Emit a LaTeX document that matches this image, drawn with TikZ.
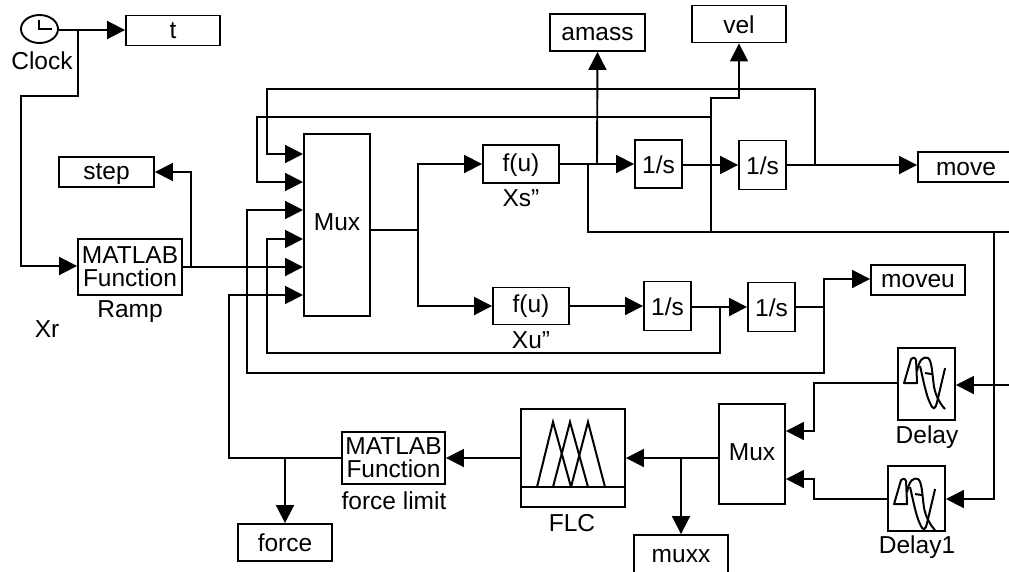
\documentclass[tikz,border=0pt]{standalone}
\usepackage{fontspec}
\setmainfont{Liberation Sans}
\usetikzlibrary{arrows.meta,shapes.geometric}
\newcommand\shifttext[2]{\raisebox{#1}[\height][\depth]{#2}}
\tikzset{
  blk/.style={draw=black,line width=1.9pt,fill=white,inner sep=0pt,font=\fontsize{24.5}{25}\selectfont,align=center},
  lbl/.style={inner sep=0pt,font=\fontsize{24.5}{25}\selectfont},
  wire/.style={line width=1.9pt,line join=miter},
  arr/.style={wire,-{Triangle[length=18pt,width=18pt]},shorten >=0pt},
  delayicon/.pic={
    \draw[line width=2pt,line join=round] (7,36) -- (14,12) .. controls (15,10) and (18,10) .. (19,13) -- (20,36) -- cycle;
    \draw[line width=2pt] (20,24) .. controls (22,12) and (27,9) .. (31,11) .. controls (35,14) and (35,26) .. (37,40) .. controls (39,50) and (44,58) .. (48,62);
    \draw[line width=2pt] (23,19) .. controls (26,32) and (29,48) .. (33,56) .. controls (36,63) and (38,63) .. (40,55) -- (48,21);
    \draw[line width=2pt] (28,26) -- (35,27);
  }
}
\begin{document}
\begin{tikzpicture}[x=1pt,y=-1pt]
\clip (0,0) rectangle (1009,571);
\fill[white] (0,0) rectangle (1009,571);
% blocks
\node[blk,ellipse,minimum width=37pt,minimum height=28pt] (clock) at (39.5,29) {};
\node[blk,minimum width=94pt,minimum height=30pt] (t) at (173,30.5) {t};
\node[blk,minimum width=95pt,minimum height=30pt] (step) at (106.5,172) {\shifttext{-2pt}{step}};
\node[blk,minimum width=104pt,minimum height=56pt] (ramp) at (130,267) {MATLAB\\[-2pt]Function};
\node[blk,minimum width=66pt,minimum height=182pt] (mux) at (337,225) {\shifttext{3pt}{Mux}};
\node[blk,minimum width=76pt,minimum height=38pt] (fs) at (521,164) {\shifttext{-1pt}{f(u)}};
\node[blk,minimum width=76pt,minimum height=37pt] (fu) at (531,306) {f(u)};
\node[blk,minimum width=47pt,minimum height=48pt] (i1) at (658.5,164) {\shifttext{-1pt}{1/s}};
\node[blk,minimum width=47pt,minimum height=49pt] (i2) at (762.5,165) {\shifttext{-1pt}{1/s}};
\node[blk,minimum width=47pt,minimum height=49pt] (i3) at (667.5,306) {\shifttext{-1pt}{1/s}};
\node[blk,minimum width=47pt,minimum height=49pt] (i4) at (771.5,307) {\shifttext{-1pt}{1/s}};
\node[blk,minimum width=95pt,minimum height=37pt] (amass) at (597.5,32.5) {\shifttext{-2pt}{amass}};
\node[blk,minimum width=94pt,minimum height=37pt] (vel) at (739,24) {\shifttext{-1pt}{vel}};
\node[blk,minimum width=96pt,minimum height=30pt] (move) at (966,167) {\shifttext{-2pt}{move}};
\node[blk,minimum width=94pt,minimum height=30pt] (moveu) at (918,280) {\shifttext{-1pt}{moveu}};
\node[blk,minimum width=57pt,minimum height=72pt] (delay) at (926.5,384) {};
\node[blk,minimum width=57pt,minimum height=65pt] (delayb) at (916.5,498.5) {};
\node[blk,minimum width=66pt,minimum height=100pt] (muxb) at (752,454) {\shifttext{2pt}{Mux}};
\node[blk,minimum width=104pt,minimum height=98pt] (flc) at (573,458) {};
\node[blk,minimum width=103pt,minimum height=52pt] (lim) at (393.5,458) {MATLAB\\[-2pt]Function};
\node[blk,minimum width=94pt,minimum height=37pt] (force) at (285,542.5) {force};
\node[blk,minimum width=94pt,minimum height=40pt] (muxx) at (681,555) {\shifttext{-1pt}{muxx}};
% labels
\node[lbl] (lclock) at (42,61) {Clock};
\node[lbl] (lramp) at (130,312) {Ramp};
\node[lbl] (lxr) at (47,329) {Xr};
\node[lbl] (lxs) at (521,198) {Xs"};
\node[lbl] (lxu) at (531,340) {Xu"};
\node[lbl] (llim) at (394,501) {force limit};
\node[lbl] (lflc) at (572,523) {FLC};
\node[lbl] (ldelay) at (927,437) {Delay};
\node[lbl] (ldelayb) at (917,547) {Delay1};
% icons
\draw[line width=1.9pt] (39,20) -- (39,29) -- (52,29);
\pic at (delay.north west) {delayicon};
\pic at ([yshift=-3pt]delayb.north west) {delayicon};
\draw[line width=1.9pt] (flc.west |- 0,487) -- (flc.east |- 0,487);
\draw[line width=2pt] (537,487) -- (553,422) -- (571,487);
\draw[line width=2pt] (553,487) -- (570,422) -- (588,487);
\draw[line width=2pt] (571,487) -- (588,422) -- (605,487);
% mux inputs
\coordinate (m1) at (303,154);
\coordinate (m2) at (303,182);
\coordinate (m3) at (303,210);
\coordinate (m4) at (303,239);
\coordinate (m5) at (303,267);
\coordinate (m6) at (303,295);
% clock wiring
\coordinate (jc) at (78,30);
\draw[arr] (clock.east |- jc) -- (t.west |- jc);
\draw[arr] (jc) -- (78,96) -- (21,96) -- (21,266) -- (ramp.west |- 0,266);
% ramp
\coordinate (jr) at (191,267);
\draw[arr] (ramp.east |- jr) -- (m5);
\draw[arr] (jr) -- (191,172) -- (step.east);
% mux output
\coordinate (jm) at (418,230);
\draw[wire] (mux.east |- jm) -- (jm);
\draw[arr] (jm) |- (fs.west);
\draw[arr] (jm) |- (fu.west);
% upper row
\coordinate (ja) at (597,164);
\coordinate (jb) at (588,164);
\draw[arr] (fs.east) -- (i1.west);
\draw[arr] (ja) -- (amass.south);
\draw[wire] (jb) -- (588,232) -- (1009,232);
\coordinate (jv) at (711,165);
\draw[arr] (i1.east |- jv) -- (i2.west);
\draw[arr] (711,232) -- (711,98) -- (739,98) -- (vel.south);
\coordinate (jo) at (815,165);
\draw[arr] (i2.east) -- (move.west |- jo);
\draw[arr] (jo) -- (815,89) -- (267,89) -- (267,154) -- (m1);
\draw[arr] (711,117) -- (257,117) -- (257,182) -- (m2);
% lower row
\draw[arr] (fu.east) -- (i3.west);
\coordinate (jd) at (720,307);
\draw[arr] (i3.east |- jd) -- (i4.west);
\coordinate (je) at (824,307);
\draw[wire] (i4.east) -- (je);
\draw[arr] (je) -- (824,279) -- (moveu.west |- 0,279);
\draw[arr] (je) -- (824,373) -- (247,373) -- (247,210) -- (m3);
\draw[arr] (jd) -- (720,353) -- (267,353) -- (267,239) -- (m4);
% delays
\coordinate (jf) at (994,232);
\draw[arr] (1009,385) -- (delay.east |- 0,385);
\draw[arr] (jf) -- (994,499) -- (delayb.east |- 0,499);
\draw[arr] (delay.west |- 0,383) -- (814,383) -- (814,431) -- (muxb.east |- 0,431);
\draw[arr] (delayb.west |- 0,499) -- (814,499) -- (814,479) -- (muxb.east |- 0,479);
% flc
\coordinate (jg) at (681,458);
\draw[arr] (muxb.west |- jg) -- (flc.east |- jg);
\draw[arr] (jg) -- (muxx.north);
\draw[arr] (flc.west) -- (lim.east);
\coordinate (jh) at (285,458);
\draw[arr] (lim.west) -- (229,458) -- (229,295) -- (m6);
\draw[arr] (jh) -- (force.north);
\end{tikzpicture}
\end{document}
